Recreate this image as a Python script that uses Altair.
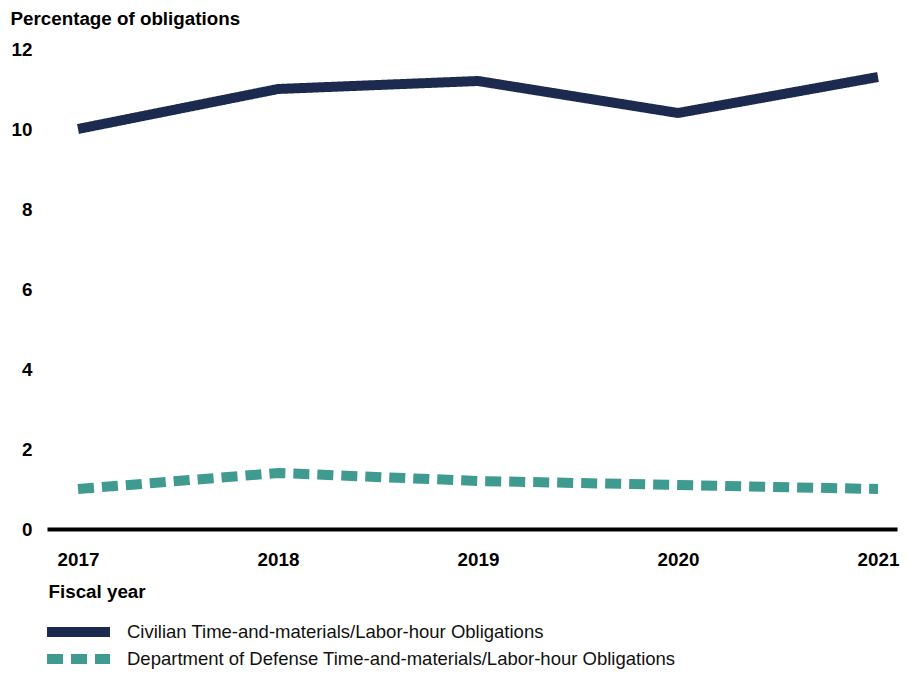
import altair as alt
import pandas as pd

years = [2017, 2018, 2019, 2020, 2021]
civilian = [10.0, 11.0, 11.2, 10.4, 11.3]
defense = [1.0, 1.4, 1.2, 1.1, 1.0]
series = [
    "Civilian Time-and-materials/Labor-hour Obligations",
    "Department of Defense Time-and-materials/Labor-hour Obligations",
]
colors = ["#1b2a4e", "#3f9a90"]
dashes = [[1, 0], [16, 8]]

rows = []
for y, v in zip(years, civilian):
    rows.append({"year": y, "value": v, "series": series[0]})
for y, v in zip(years, defense):
    rows.append({"year": y, "value": v, "series": series[1]})
df = pd.DataFrame(rows)
legend_df = pd.DataFrame({"series": series, "row": [0, 1]})

FONT = "Liberation Sans"
FS = 18.8

color_scale = alt.Scale(domain=series, range=colors)
dash_scale = alt.Scale(domain=series, range=dashes)

lines = (
    alt.Chart(df)
    .mark_line(strokeWidth=10, strokeCap="butt", strokeJoin="miter")
    .encode(
        x=alt.X(
            "year:Q",
            scale=alt.Scale(domain=[2016.845, 2021.095], nice=False, zero=False),
            axis=alt.Axis(
                values=years,
                format="d",
                title="Fiscal year",
                titleX=1,
                titleY=62,
                titleAlign="left",
                titleBaseline="middle",
                titleFont=FONT,
                titleFontSize=FS,
                titleFontWeight="bold",
                titleColor="#000",
                labelFont=FONT,
                labelFontSize=FS,
                labelFontWeight="bold",
                labelColor="#000",
                labelPadding=21,
                ticks=False,
                grid=False,
                domain=True,
                domainColor="#000",
                domainWidth=4,
                labelFlush=False,
            ),
        ),
        y=alt.Y(
            "value:Q",
            scale=alt.Scale(domain=[0, 12], nice=False),
            axis=alt.Axis(
                values=[0, 2, 4, 6, 8, 10, 12],
                title="Percentage of obligations",
                titleAngle=0,
                titleX=-37,
                titleY=-31,
                titleAlign="left",
                titleBaseline="middle",
                titleFont=FONT,
                titleFontSize=FS,
                titleFontWeight="bold",
                titleColor="#000",
                labelFont=FONT,
                labelFontSize=FS,
                labelFontWeight="bold",
                labelColor="#000",
                labelAlign="right",
                labelBaseline="middle",
                labelPadding=15,
                ticks=False,
                grid=False,
                domain=False,
            ),
        ),
        color=alt.Color("series:N", scale=color_scale, legend=None),
        strokeDash=alt.StrokeDash("series:N", scale=dash_scale, legend=None),
    )
)

legend_y = alt.Y(
    "row:Q", scale=alt.Scale(domain=[0, 1], range=[583, 610]), axis=None
)

legend_swatch = (
    alt.Chart(legend_df)
    .mark_rule(strokeWidth=10, strokeCap="butt")
    .encode(
        x=alt.value(0),
        x2=alt.value(63),
        y=legend_y,
        color=alt.Color("series:N", scale=color_scale, legend=None),
        strokeDash=alt.StrokeDash("series:N", scale=dash_scale, legend=None),
    )
)

legend_text = (
    alt.Chart(legend_df)
    .mark_text(
        align="left",
        baseline="middle",
        font=FONT,
        fontSize=18.5,
        color="#111",
    )
    .encode(
        x=alt.value(80),
        y=legend_y,
        text="series:N",
    )
)

chart = (
    alt.layer(lines, legend_swatch, legend_text)
    .resolve_scale(y="independent")
    .properties(
        width=850,
        height=480,
        autosize=alt.AutoSizeParams(type="none"),
        padding={"left": 39, "top": 41, "right": 8, "bottom": 141},
    )
    .configure_view(stroke=None)
)

chart.save("out.html", embed_options={"renderer": "svg", "actions": False})
